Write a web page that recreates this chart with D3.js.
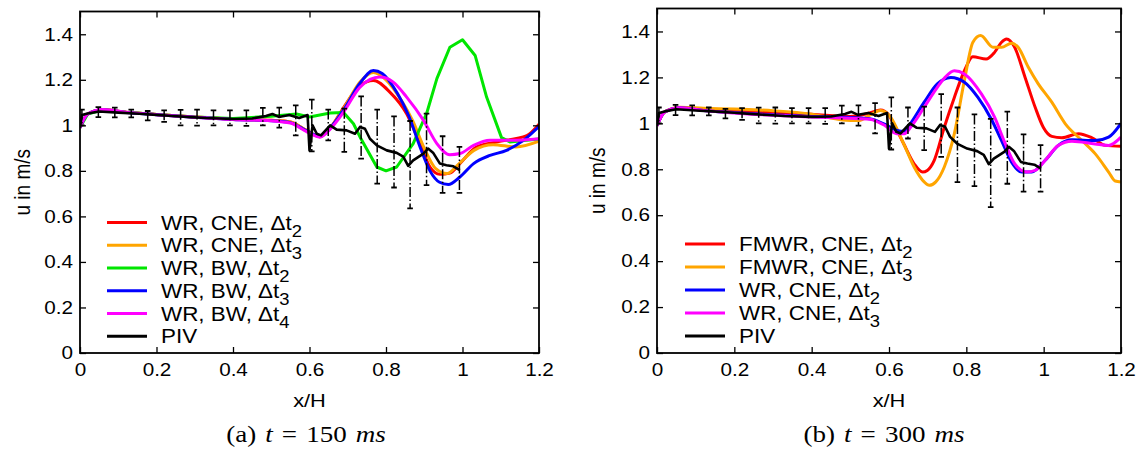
<!DOCTYPE html>
<html>
<head>
<meta charset="utf-8">
<script src="https://cdn.jsdelivr.net/npm/d3@7"></script>
<style>
  body { margin: 0; background: #fff; }
</style>
</head>
<body>
<script>
// ticks
var xTicks = [0, 0.2, 0.4, 0.6, 0.8, 1, 1.2];
var yTicks = [0, 0.2, 0.4, 0.6, 0.8, 1, 1.2, 1.4];

// (a) t = 150 ms  -- [x/H, u]
var aWrCneDt2 = [[0,0.99],[0.02,1.05],[0.06,1.068],[0.12,1.058],[0.2,1.048],[0.3,1.037],[0.4,1.027],[0.5,1.022],[0.55,1.015],[0.59,0.98],[0.627,0.95],[0.655,0.99],[0.69,1.08],[0.732,1.175],[0.767,1.197],[0.81,1.146],[0.854,1.051],[0.889,0.92],[0.915,0.817],[0.941,0.785],[0.967,0.79],[0.993,0.832],[1.037,0.905],[1.089,0.927],[1.168,0.955],[1.2,1.005]];
var aWrCneDt3 = [[0,0.99],[0.02,1.05],[0.06,1.068],[0.12,1.058],[0.2,1.048],[0.3,1.037],[0.4,1.027],[0.5,1.022],[0.55,1.015],[0.59,0.98],[0.627,0.95],[0.655,0.99],[0.69,1.075],[0.732,1.19],[0.767,1.232],[0.8,1.2],[0.84,1.11],[0.87,1.02],[0.9,0.9],[0.93,0.81],[0.96,0.788],[0.99,0.83],[1.03,0.89],[1.08,0.915],[1.14,0.905],[1.2,0.93]];
var aWrBwDt2 = [[0,0.99],[0.02,1.05],[0.06,1.068],[0.12,1.058],[0.2,1.048],[0.3,1.037],[0.4,1.03],[0.5,1.04],[0.566,1.05],[0.6,1.037],[0.654,1.054],[0.689,1.056],[0.715,1.007],[0.732,0.949],[0.776,0.817],[0.8,0.8],[0.828,0.817],[0.871,0.92],[0.906,1.051],[0.933,1.205],[0.967,1.343],[1.0,1.376],[1.033,1.307],[1.063,1.124],[1.102,0.946],[1.124,0.927],[1.2,0.94]];
var aWrBwDt3 = [[0,0.99],[0.02,1.05],[0.06,1.068],[0.12,1.056],[0.2,1.047],[0.3,1.036],[0.4,1.026],[0.5,1.02],[0.55,1.012],[0.59,0.978],[0.627,0.952],[0.655,0.99],[0.69,1.07],[0.732,1.185],[0.767,1.241],[0.79,1.228],[0.83,1.14],[0.86,1.04],[0.889,0.905],[0.915,0.8],[0.94,0.75],[0.963,0.74],[0.993,0.773],[1.029,0.832],[1.072,0.868],[1.115,0.89],[1.16,0.935],[1.2,0.995]];
var aWrBwDt4 = [[0,0.99],[0.02,1.05],[0.06,1.07],[0.12,1.058],[0.2,1.047],[0.3,1.036],[0.4,1.026],[0.5,1.02],[0.55,1.01],[0.59,0.975],[0.627,0.948],[0.655,0.985],[0.689,1.058],[0.732,1.168],[0.784,1.212],[0.819,1.19],[0.854,1.124],[0.898,1.022],[0.933,0.92],[0.967,0.871],[0.993,0.876],[1.029,0.912],[1.072,0.934],[1.13,0.934],[1.2,0.941]];

// (b) t = 300 ms
var bFmwrCneDt2 = [[0,0.99],[0.02,1.05],[0.06,1.068],[0.12,1.06],[0.2,1.055],[0.3,1.048],[0.4,1.04],[0.5,1.03],[0.55,1.045],[0.578,1.058],[0.6,1.035],[0.612,0.998],[0.638,0.911],[0.665,0.824],[0.687,0.788],[0.699,0.795],[0.717,0.839],[0.743,0.983],[0.769,1.113],[0.795,1.229],[0.817,1.29],[0.851,1.28],[0.873,1.309],[0.891,1.353],[0.904,1.367],[0.925,1.331],[0.952,1.2],[0.978,1.07],[0.999,0.983],[1.021,0.943],[1.047,0.937],[1.09,0.955],[1.125,0.937],[1.159,0.904],[1.2,0.9]];
var bFmwrCneDt3 = [[0,0.99],[0.02,1.05],[0.06,1.07],[0.12,1.066],[0.2,1.062],[0.3,1.055],[0.4,1.04],[0.48,1.015],[0.52,1.012],[0.555,1.04],[0.578,1.056],[0.604,1.027],[0.638,0.911],[0.665,0.81],[0.691,0.745],[0.704,0.73],[0.721,0.745],[0.743,0.81],[0.769,0.955],[0.795,1.187],[0.817,1.353],[0.837,1.382],[0.869,1.331],[0.891,1.331],[0.917,1.349],[0.934,1.331],[0.96,1.245],[0.986,1.172],[1.021,1.092],[1.056,0.998],[1.099,0.925],[1.133,0.868],[1.168,0.788],[1.185,0.749],[1.2,0.745]];
var bWrCneDt2 = [[0,0.99],[0.02,1.05],[0.06,1.068],[0.12,1.056],[0.2,1.047],[0.3,1.037],[0.4,1.03],[0.5,1.025],[0.55,1.02],[0.59,0.995],[0.621,0.969],[0.64,0.965],[0.656,1.0],[0.691,1.092],[0.725,1.172],[0.76,1.2],[0.795,1.179],[0.83,1.113],[0.864,1.02],[0.891,0.925],[0.917,0.831],[0.943,0.788],[0.969,0.788],[1.004,0.839],[1.038,0.904],[1.073,0.928],[1.133,0.925],[1.168,0.94],[1.2,1.0]];
var bWrCneDt3 = [[0,0.99],[0.02,1.05],[0.06,1.068],[0.12,1.056],[0.2,1.045],[0.3,1.035],[0.4,1.028],[0.5,1.022],[0.55,1.018],[0.59,0.99],[0.62,0.955],[0.64,0.955],[0.656,0.983],[0.691,1.07],[0.725,1.157],[0.745,1.2],[0.769,1.229],[0.795,1.215],[0.839,1.128],[0.873,1.027],[0.899,0.918],[0.925,0.824],[0.956,0.788],[0.978,0.795],[1.004,0.839],[1.038,0.904],[1.073,0.922],[1.133,0.91],[1.168,0.904],[1.2,0.94]];

// PIV measurement (same in both panels)
var piv = [[0,0.99],[0.005,1.045],[0.02,1.052],[0.05,1.061],[0.1,1.056],[0.155,1.051],[0.2,1.046],[0.242,1.041],[0.29,1.036],[0.33,1.032],[0.4,1.028],[0.45,1.03],[0.486,1.041],[0.503,1.05],[0.52,1.037],[0.547,1.045],[0.573,1.032],[0.595,1.045],[0.6,0.89],[0.608,1.0],[0.619,0.963],[0.63,0.956],[0.654,1.0],[0.671,0.981],[0.697,0.978],[0.719,0.963],[0.732,0.993],[0.745,0.985],[0.758,0.941],[0.776,0.912],[0.802,0.89],[0.828,0.879],[0.845,0.863],[0.858,0.822],[0.871,0.846],[0.898,0.876],[0.91,0.898],[0.923,0.88],[0.941,0.832],[0.958,0.825],[0.976,0.82],[0.993,0.803]];
var errX  = [0.005,0.048,0.091,0.134,0.177,0.22,0.263,0.306,0.349,0.392,0.435,0.478,0.521,0.564,0.606,0.649,0.691,0.735,0.777,0.821,0.863,0.906,0.948,0.992];
var errLo = [1.0,1.036,1.035,1.035,1.022,1.015,1.0,0.999,1.0,1.0,0.998,1.0,0.99,0.956,0.886,0.934,0.883,0.854,0.744,0.727,0.635,0.737,0.703,0.703];
var errHi = [1.069,1.08,1.078,1.069,1.063,1.066,1.068,1.069,1.066,1.066,1.066,1.077,1.078,1.088,1.113,1.069,1.073,1.127,1.069,1.039,1.019,1.051,0.952,0.905];

var RED = '#ff0000', ORANGE = '#ffa500', GREEN = '#00e600', BLUE = '#0000ff', MAGENTA = '#ff00ff';
var SANS = '"Liberation Sans", Arial, Helvetica, sans-serif';
var SERIF = '"Liberation Serif", "Times New Roman", serif';
var SX = 1.15;   // the original is a little stretched sideways

var panels = [
  { x0: 80, x1: 539, yTop: 11.5, yBot: 353, legX: 107, legY: 222.5, legDy: 22.75, yLabX: 30,
    caption: ['(a) ', 't', ' = 150 ', 'ms'], capX: 306,
    series: [
      { label: ['WR, CNE, \u0394t', '2'], color: RED, data: aWrCneDt2, smooth: true },
      { label: ['WR, CNE, \u0394t', '3'], color: ORANGE, data: aWrCneDt3, smooth: true },
      { label: ['WR, BW, \u0394t', '2'], color: GREEN, data: aWrBwDt2, smooth: false },
      { label: ['WR, BW, \u0394t', '3'], color: BLUE, data: aWrBwDt3, smooth: true },
      { label: ['WR, BW, \u0394t', '4'], color: MAGENTA, data: aWrBwDt4, smooth: true }
    ] },
  { x0: 657, x1: 1121, yTop: 8.5, yBot: 353, legX: 685, legY: 244, legDy: 23, yLabX: 605,
    caption: ['(b) ', 't', ' = 300 ', 'ms'], capX: 884,
    series: [
      { label: ['FMWR, CNE, \u0394t', '2'], color: RED, data: bFmwrCneDt2, smooth: true },
      { label: ['FMWR, CNE, \u0394t', '3'], color: ORANGE, data: bFmwrCneDt3, smooth: true },
      { label: ['WR, CNE, \u0394t', '2'], color: BLUE, data: bWrCneDt2, smooth: true },
      { label: ['WR, CNE, \u0394t', '3'], color: MAGENTA, data: bWrCneDt3, smooth: true }
    ] }
];

var svg = d3.select('body').append('svg')
    .attr('width', 1138)
    .attr('height', 451);

var fmt = function(d) { return String(+d.toFixed(1)); };

panels.forEach(function(p, pi) {
  var x = d3.scaleLinear().domain([0, 1.2]).range([p.x0, p.x1]);
  var y = d3.scaleLinear().domain([0, 1.5]).range([p.yBot, p.yTop]);
  var g = svg.append('g');

  g.append('clipPath').attr('id', 'clip' + pi)
    .append('rect')
      .attr('x', p.x0).attr('y', p.yTop)
      .attr('width', p.x1 - p.x0).attr('height', p.yBot - p.yTop);

  var plot = g.append('g').attr('clip-path', 'url(#clip' + pi + ')');

  var smoothLine = d3.line().x(function(d) { return x(d[0]); }).y(function(d) { return y(d[1]); })
      .curve(d3.curveMonotoneX);
  var straightLine = d3.line().x(function(d) { return x(d[0]); }).y(function(d) { return y(d[1]); });

  p.series.forEach(function(s) {
    plot.append('path')
      .attr('d', (s.smooth ? smoothLine : straightLine)(s.data))
      .attr('fill', 'none')
      .attr('stroke', s.color)
      .attr('stroke-width', 3)
      .attr('stroke-linejoin', 'round');
  });

  // PIV error bars (dash-dot with caps)
  var bars = plot.append('g').attr('stroke', '#000');
  errX.forEach(function(ex, i) {
    bars.append('line')
      .attr('x1', x(ex)).attr('x2', x(ex))
      .attr('y1', y(errHi[i])).attr('y2', y(errLo[i]))
      .attr('stroke-width', 1.5)
      .attr('stroke-dasharray', '10,2.5,1.5,2.5');
    [errHi[i], errLo[i]].forEach(function(v) {
      bars.append('line')
        .attr('x1', x(ex) - 2.8).attr('x2', x(ex) + 2.8)
        .attr('y1', y(v)).attr('y2', y(v))
        .attr('stroke-width', 1.8);
    });
  });

  plot.append('path')
    .attr('d', straightLine(piv))
    .attr('fill', 'none')
    .attr('stroke', '#000')
    .attr('stroke-width', 2.6)
    .attr('stroke-linejoin', 'round');

  // axes, ticks pointing inward on all four sides
  var axB = g.append('g').attr('transform', 'translate(0,' + p.yBot + ')')
    .call(d3.axisBottom(x).tickValues(xTicks).tickFormat(fmt).tickSize(-6).tickSizeOuter(0).tickPadding(10));
  var axL = g.append('g').attr('transform', 'translate(' + p.x0 + ',0)')
    .call(d3.axisLeft(y).tickValues(yTicks).tickFormat(fmt).tickSize(-6).tickSizeOuter(0).tickPadding(7));
  var axT = g.append('g').attr('transform', 'translate(0,' + p.yTop + ')')
    .call(d3.axisTop(x).tickValues(xTicks).tickFormat('').tickSize(-6).tickSizeOuter(0));
  var axR = g.append('g').attr('transform', 'translate(' + p.x1 + ',0)')
    .call(d3.axisRight(y).tickValues(yTicks).tickFormat('').tickSize(-6).tickSizeOuter(0));

  [axB, axL, axT, axR].forEach(function(a) {
    a.select('.domain').remove();
    a.selectAll('.tick line').attr('stroke', '#000').attr('stroke-width', 1.3);
    a.selectAll('.tick text')
      .attr('font-family', SANS)
      .attr('font-size', 18)
      .attr('fill', '#000');
  });
  axB.selectAll('.tick text').attr('transform', 'scale(' + SX + ',1)');
  axL.selectAll('.tick text').attr('transform', 'scale(' + SX + ',1)').attr('x', -7 / SX);

  g.append('rect')
    .attr('x', p.x0).attr('y', p.yTop)
    .attr('width', p.x1 - p.x0).attr('height', p.yBot - p.yTop)
    .attr('fill', 'none')
    .attr('stroke', '#000')
    .attr('stroke-width', 1.8);

  // axis titles
  g.append('text')
    .attr('transform', 'translate(' + p.yLabX + ',' + ((p.yTop + p.yBot) / 2) + ') rotate(-90) scale(1,' + SX + ')')
    .attr('text-anchor', 'middle')
    .attr('font-family', SANS).attr('font-size', 19)
    .text('u in m/s');
  g.append('text')
    .attr('transform', 'translate(' + ((p.x0 + p.x1) / 2) + ',407) scale(' + SX + ',1)')
    .attr('text-anchor', 'middle')
    .attr('font-family', SANS).attr('font-size', 19)
    .text('x/H');

  // legend
  var entries = p.series.map(function(s) { return { label: s.label, color: s.color }; });
  entries.push({ label: ['PIV', ''], color: '#000' });
  var leg = g.append('g');
  entries.forEach(function(e, i) {
    var ly = p.legY + i * p.legDy;
    leg.append('line')
      .attr('x1', p.legX).attr('x2', p.legX + 40)
      .attr('y1', ly).attr('y2', ly)
      .attr('stroke', e.color).attr('stroke-width', 3);
    var t = leg.append('text')
      .attr('transform', 'translate(' + (p.legX + 54) + ',' + (ly + 7) + ') scale(' + SX + ',1)')
      .attr('font-family', SANS).attr('font-size', 19.5);
    t.append('tspan').text(e.label[0]);
    if (e.label[1]) {
      t.append('tspan').attr('dy', 7).attr('font-size', 16).text(e.label[1]);
    }
  });

  // caption
  var cap = g.append('text')
    .attr('transform', 'translate(' + p.capX + ',442) scale(' + SX + ',1)')
    .attr('text-anchor', 'middle')
    .attr('font-family', SERIF).attr('font-size', 23.5)
    .attr('word-spacing', 2);
  cap.append('tspan').text(p.caption[0]);
  cap.append('tspan').attr('font-style', 'italic').text(p.caption[1]);
  cap.append('tspan').text(p.caption[2]);
  cap.append('tspan').attr('font-style', 'italic').text(p.caption[3]);
});
</script>
</body>
</html>
